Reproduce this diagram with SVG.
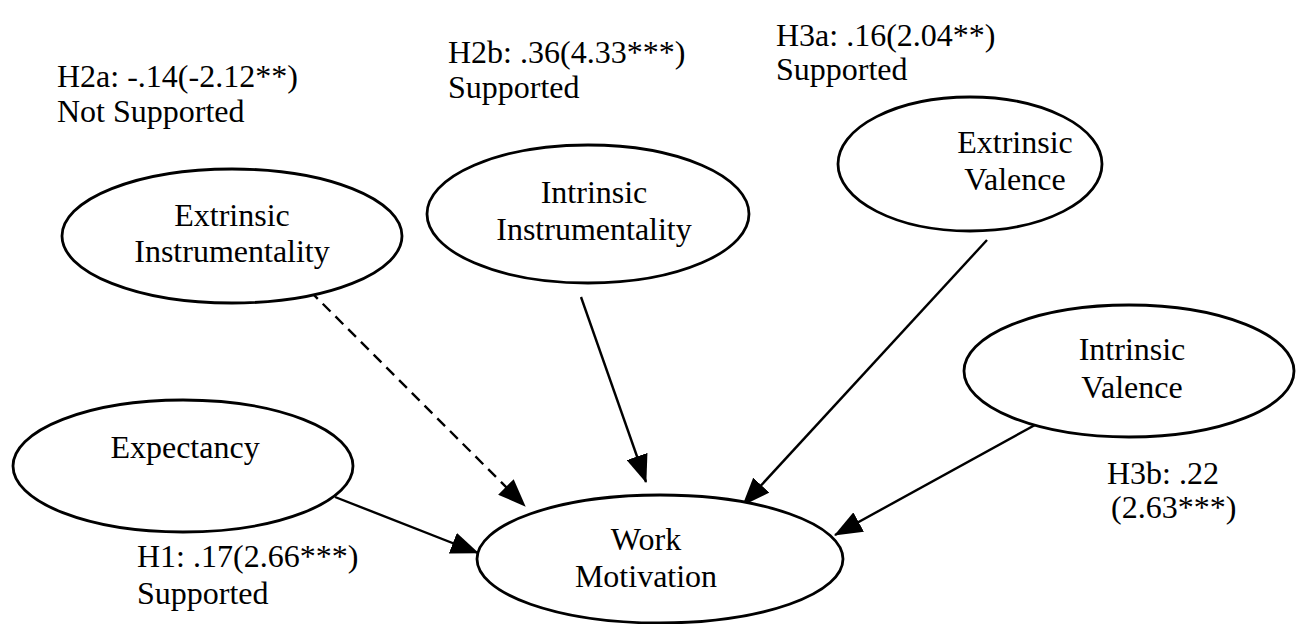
<svg xmlns="http://www.w3.org/2000/svg" width="1296" height="624" viewBox="0 0 1296 624">
<defs>
<style>
text{font-family:"Liberation Serif","Times New Roman",serif;font-size:32px;fill:#000}
.c{text-anchor:middle}
ellipse{fill:#fff;stroke:#000;stroke-width:2.8}
.e{stroke:#000;stroke-width:2.4;fill:none;marker-end:url(#ah)}
.d{stroke-dasharray:11 7}
</style>
<marker id="ah" markerUnits="userSpaceOnUse" markerWidth="28" markerHeight="22" refX="27" refY="11" orient="auto" viewBox="0 0 28 22">
<path d="M0,0 L28,11 L0,22 z" fill="#000"/>
</marker>
</defs>
<rect width="1296" height="624" fill="#fff"/>
<g id="connectors">
<line class="e" x1="335" y1="497" x2="478" y2="553"/>
<line class="e d" x1="310" y1="291" x2="525" y2="506"/>
<line class="e" x1="581" y1="297" x2="646" y2="482"/>
<line class="e" x1="987" y1="240" x2="743" y2="505"/>
<line class="e" x1="1035" y1="425" x2="835" y2="535"/>
</g>
<g id="extrinsic-instrumentality">
<ellipse cx="232" cy="236" rx="170" ry="67"/>
<text class="c" x="232" y="226">Extrinsic</text>
<text class="c" x="232" y="262">Instrumentality</text>
</g>
<g id="intrinsic-instrumentality">
<ellipse cx="588" cy="214" rx="161" ry="69"/>
<text class="c" x="594" y="203">Intrinsic</text>
<text class="c" x="594" y="240">Instrumentality</text>
</g>
<g id="extrinsic-valence">
<ellipse cx="970" cy="164" rx="132" ry="67"/>
<text class="c" x="1015" y="153">Extrinsic</text>
<text class="c" x="1015" y="190">Valence</text>
</g>
<g id="intrinsic-valence">
<ellipse cx="1129" cy="371" rx="165" ry="66"/>
<text class="c" x="1132" y="360">Intrinsic</text>
<text class="c" x="1132" y="398">Valence</text>
</g>
<g id="expectancy">
<ellipse cx="183" cy="466" rx="170" ry="66"/>
<text class="c" x="185" y="458">Expectancy</text>
</g>
<g id="work-motivation">
<ellipse cx="660" cy="559" rx="183" ry="64"/>
<text class="c" x="646" y="550">Work</text>
<text class="c" x="646" y="587">Motivation</text>
</g>
<g id="labels">
<text x="57" y="87">H2a: -.14(-2.12**)</text>
<text x="57" y="122">Not Supported</text>
<text x="448" y="63">H2b: .36(4.33***)</text>
<text x="448" y="98">Supported</text>
<text x="776" y="46">H3a: .16(2.04**)</text>
<text x="776" y="80">Supported</text>
<text x="1107" y="484">H3b: .22</text>
<text x="1111" y="518">(2.63***)</text>
<text x="137" y="567">H1: .17(2.66***)</text>
<text x="137" y="604">Supported</text>
</g>
</svg>
